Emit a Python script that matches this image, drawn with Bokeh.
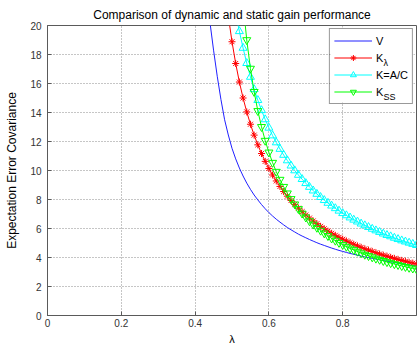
from bokeh.plotting import figure
from bokeh.models import Legend, LegendItem, Label, FixedTicker, Range1d, BoxAnnotation
from bokeh.embed import file_html
from bokeh.resources import INLINE

# ---- data ----
lam = [0.43, 0.44, 0.45, 0.46, 0.47, 0.48, 0.49, 0.50, 0.51, 0.52,
       0.53, 0.54, 0.55, 0.56, 0.57, 0.58, 0.59, 0.60, 0.61, 0.62,
       0.63, 0.64, 0.65, 0.66, 0.67, 0.68, 0.69, 0.70, 0.71, 0.72,
       0.73, 0.74, 0.75, 0.76, 0.77, 0.78, 0.79, 0.80, 0.81, 0.82,
       0.83, 0.84, 0.85, 0.86, 0.87, 0.88, 0.89, 0.90, 0.91, 0.92,
       0.93, 0.94, 0.95, 0.96, 0.97, 0.98, 0.99, 1.00]

v_vals = [23.42, 20.27, 18.3, 16.5, 14.9, 13.5, 12.45, 11.53, 10.8, 10.17,
          9.62, 9.13, 8.7, 8.31, 7.97, 7.65, 7.36, 7.1, 6.86, 6.64,
          6.44, 6.25, 6.07, 5.91, 5.76, 5.61, 5.48, 5.36, 5.24, 5.13,
          5.02, 4.92, 4.83, 4.74, 4.65, 4.57, 4.49, 4.42, 4.35, 4.28,
          4.22, 4.16, 4.1, 4.04, 3.99, 3.94, 3.89, 3.84, 3.79, 3.75,
          3.7, 3.66, 3.61, 3.57, 3.53, 3.49, 3.45, 3.41]

k_lambda = [22.81, 20.66, 18.88, 17.38, 16.10, 15.0, 14.04, 13.19, 12.44, 11.77,
            11.17, 10.63, 10.14, 9.69, 9.28, 8.90, 8.55, 8.23, 7.93, 7.66,
            7.40, 7.16, 6.93, 6.72, 6.52, 6.33, 6.15, 5.98, 5.82, 5.67,
            5.53, 5.39, 5.26, 5.14, 5.02, 4.91, 4.80, 4.70, 4.60, 4.51,
            4.42, 4.33, 4.24, 4.16, 4.09, 4.01, 3.94, 3.87, 3.80, 3.74,
            3.67, 3.61, 3.56]

k_ac = [22.3, 20.8, 19.6, 18.45, 17.4, 16.45, 15.6, 14.85, 14.15, 13.52,
        12.94, 12.41, 11.93, 11.48, 11.07, 10.69, 10.33, 10.0, 9.69, 9.40,
        9.12, 8.86, 8.61, 8.38, 8.16, 7.95, 7.76, 7.57, 7.39, 7.22,
        7.05, 6.90, 6.75, 6.60, 6.47, 6.33, 6.21, 6.09, 5.97, 5.86,
        5.75, 5.64, 5.54, 5.45, 5.35, 5.26, 5.17, 5.09, 5.01, 4.93, 4.85]

k_ss = [24.76, 21.5, 19.0, 17.03, 15.43, 14.11, 13.01, 12.06, 11.25, 10.54,
        9.92, 9.37, 8.88, 8.43, 8.04, 7.67, 7.35, 7.04, 6.77, 6.51,
        6.28, 6.06, 5.86, 5.67, 5.49, 5.32, 5.17, 5.02, 4.88, 4.75,
        4.63, 4.52, 4.41, 4.30, 4.20, 4.11, 4.02, 3.93, 3.85, 3.77,
        3.69, 3.62, 3.55, 3.49, 3.42, 3.36, 3.30, 3.25, 3.19]

x_ticks = [0, 0.2, 0.4, 0.6, 0.8]
y_ticks = [0, 2, 4, 6, 8, 10, 12, 14, 16, 18, 20]

FONT = "Liberation Sans"
AX = "#5a5a5a"

def xs_for(vals):
    return lam[len(lam) - len(vals):]

p = figure(width=417, height=347,
           output_backend="svg", toolbar_location=None,
           x_range=Range1d(0, 1), y_range=Range1d(0, 20),
           min_border_left=47, min_border_right=1,
           min_border_top=25, min_border_bottom=30)

p.title.text = "Comparison of dynamic and static gain performance"
p.title.text_font = FONT
p.title.text_font_size = "12px"
p.title.text_font_style = "normal"
p.title.text_color = "#000000"
p.title.align = "center"
p.title.standoff = 7

p.outline_line_color = AX
p.outline_line_width = 1
p.background_fill_color = "white"
p.border_fill_color = "white"

for ax in (p.xaxis[0], p.yaxis[0]):
    ax.axis_line_color = AX
    ax.major_tick_line_color = AX
    ax.major_tick_in = 4
    ax.major_tick_out = 0
    ax.minor_tick_line_color = None
    ax.major_label_text_font = FONT
    ax.major_label_text_font_size = "10px"
    ax.major_label_text_color = "#333333"
    ax.axis_label_text_font = FONT
    ax.axis_label_text_font_style = "normal"
    ax.axis_label_text_color = "#000000"

p.xaxis.ticker = FixedTicker(ticks=x_ticks)
p.yaxis.ticker = FixedTicker(ticks=y_ticks)
p.xaxis.axis_label = "λ"
p.xaxis.axis_label_text_font_size = "11px"
p.xaxis.major_label_standoff = 3
p.xaxis.axis_label_standoff = 3
p.yaxis.axis_label = "Expectation Error Covariance"
p.yaxis.axis_label_text_font_size = "12px"
p.yaxis.major_label_standoff = 6
p.yaxis.axis_label_standoff = 8

for g in (p.xgrid[0], p.ygrid[0]):
    g.grid_line_color = "#8c8c8c"
    g.grid_line_dash = "1 2"
    g.grid_line_width = 1

# ---- series ----
r_v = p.line(xs_for(v_vals), v_vals, line_color="#2020ff", line_width=1)

r_kl = p.line(xs_for(k_lambda), k_lambda, line_color="#ff0000", line_width=1)
m_kl = p.scatter(xs_for(k_lambda), k_lambda, marker="asterisk", size=7,
                 line_color="#ff0000", line_width=1)

r_ac = p.line(xs_for(k_ac), k_ac, line_color="#00ffff", line_width=1)
m_ac = p.scatter(xs_for(k_ac), k_ac, marker="triangle", size=8,
                 line_color="#00ffff", fill_alpha=0, line_width=1)

r_ss = p.line(xs_for(k_ss), k_ss, line_color="#00ff00", line_width=1)
m_ss = p.scatter(xs_for(k_ss), k_ss, marker="inverted_triangle", size=8,
                 line_color="#00ff00", fill_alpha=0, line_width=1)

# white backing for the (transparent) legend, so subscripts can sit above it
backing = BoxAnnotation(left=283, right=366, top=288, bottom=213,
                        left_units="screen", right_units="screen",
                        top_units="screen", bottom_units="screen",
                        fill_color="white", fill_alpha=1, line_color=None)
p.add_layout(backing)

sub_style = dict(x_units="screen", y_units="screen", text_font=FONT,
                 text_color="#000000", text_baseline="middle", text_align="left")
p.add_layout(Label(x=336, y=252.5, text="λ", text_font_size="9px", **sub_style))
p.add_layout(Label(x=336, y=218.5, text="SS", text_font_size="9px", **sub_style))

legend = Legend(items=[
    LegendItem(label="V", renderers=[r_v]),
    LegendItem(label="K", renderers=[r_kl, m_kl]),
    LegendItem(label="K=A/C", renderers=[r_ac, m_ac]),
    LegendItem(label="K", renderers=[r_ss, m_ss]),
], location="top_right")
legend.margin = 3
legend.padding = 4
legend.spacing = 2
legend.glyph_width = 38
legend.glyph_height = 15
legend.label_height = 15
legend.label_standoff = 4
legend.label_text_font = FONT
legend.label_text_font_size = "11px"
legend.label_text_color = "#000000"
legend.border_line_color = "#333333"
legend.border_line_width = 1
legend.background_fill_alpha = 0
p.add_layout(legend)

open("out.html", "w").write(file_html(p, INLINE))
